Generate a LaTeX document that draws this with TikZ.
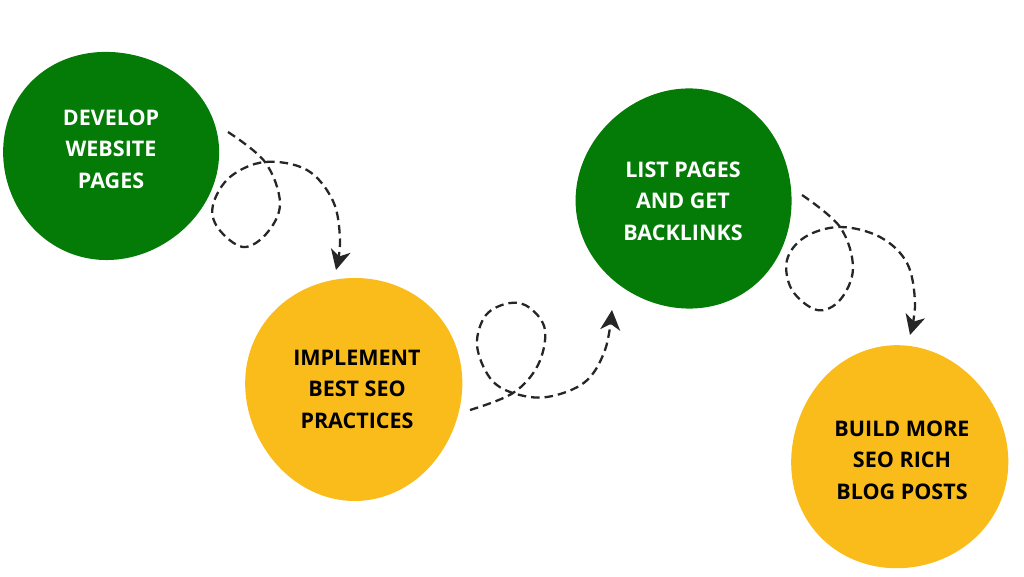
\documentclass[tikz,border=0pt]{standalone}
\usepackage{fontspec}
\setmainfont{Open Sans}
\usetikzlibrary{arrows.meta}
\definecolor{bgreen}{HTML}{047B06}
\definecolor{byellow}{HTML}{F9BC1B}
\definecolor{dashc}{HTML}{262626}
\tikzset{
  label/.style={align=center, font=\bfseries\fontsize{21.5}{31.5}\selectfont, inner sep=0pt},
  blob/.style={domain=0:360, samples=72, smooth cycle, variable=\t},
  flow/.style={draw=dashc, line width=2.3pt, dash pattern=on 8.5pt off 5pt,
    -{Stealth[length=20pt,width=20pt,inset=6pt]}},
}
\begin{document}
\begin{tikzpicture}[x=1pt,y=-1pt]
\useasboundingbox (0,0) rectangle (1024,576);
% blobs
\fill[bgreen] plot[blob] ({110+(106+2*cos(2*\t)+1.5*cos(3*\t+40))*cos(\t)},{155+(106+2*cos(2*\t)+1.5*cos(3*\t+40))*sin(\t)});
\fill[byellow] plot[blob] ({354+(110-1.5*cos(2*\t)+1.5*cos(3*\t+100))*cos(\t)},{388+(110-1.5*cos(2*\t)+1.5*cos(3*\t+100))*sin(\t)});
\fill[bgreen] plot[blob] ({685+(109-1*cos(2*\t)+1.5*cos(3*\t+200))*cos(\t)},{199+(109-1*cos(2*\t)+1.5*cos(3*\t+200))*sin(\t)});
\fill[byellow] plot[blob] ({899+(110-1.5*cos(2*\t)+1.5*cos(3*\t+300))*cos(\t)},{458+(110-1.5*cos(2*\t)+1.5*cos(3*\t+300))*sin(\t)});
% labels
\node[label, text=white] (n1) at (111,149) {DEVELOP\\WEBSITE\\PAGES};
\node[label, text=black] (n2) at (357,389) {IMPLEMENT\\BEST SEO\\PRACTICES};
\node[label, text=white] (n3) at (683,201) {LIST PAGES\\AND GET\\BACKLINKS};
\node[label, text=black] (n4) at (902,460) {BUILD MORE\\SEO RICH\\BLOG POSTS};
% connector endpoints
\coordinate (s1) at (228,132);
\coordinate (e1) at (336,270);
\coordinate (s2) at (470,410);
\coordinate (e2) at (612,310);
\coordinate (s3) at (802,195);
\coordinate (e3) at (910,335);
% connectors
\draw[flow] plot[smooth, tension=0.6] coordinates {(s1) (265,162) (280,203) (267,233) (243,247) (218,228) (213,205) (230,177) (265,162) (307,170) (333,201) (340,240) (e1)};
\draw[flow] plot[smooth, tension=0.6] coordinates {(s2) (513,393) (538,365) (545,330) (530,308) (510,303) (486,315) (477,345) (490,378) (513,393) (547,397) (585,382) (605,350) (e2)};
\draw[flow] plot[smooth, tension=0.6] coordinates {(s3) (840,227) (853,268) (840,300) (817,310) (792,290) (787,260) (805,237) (840,227) (880,237) (907,263) (915,303) (e3)};
\end{tikzpicture}
\end{document}
